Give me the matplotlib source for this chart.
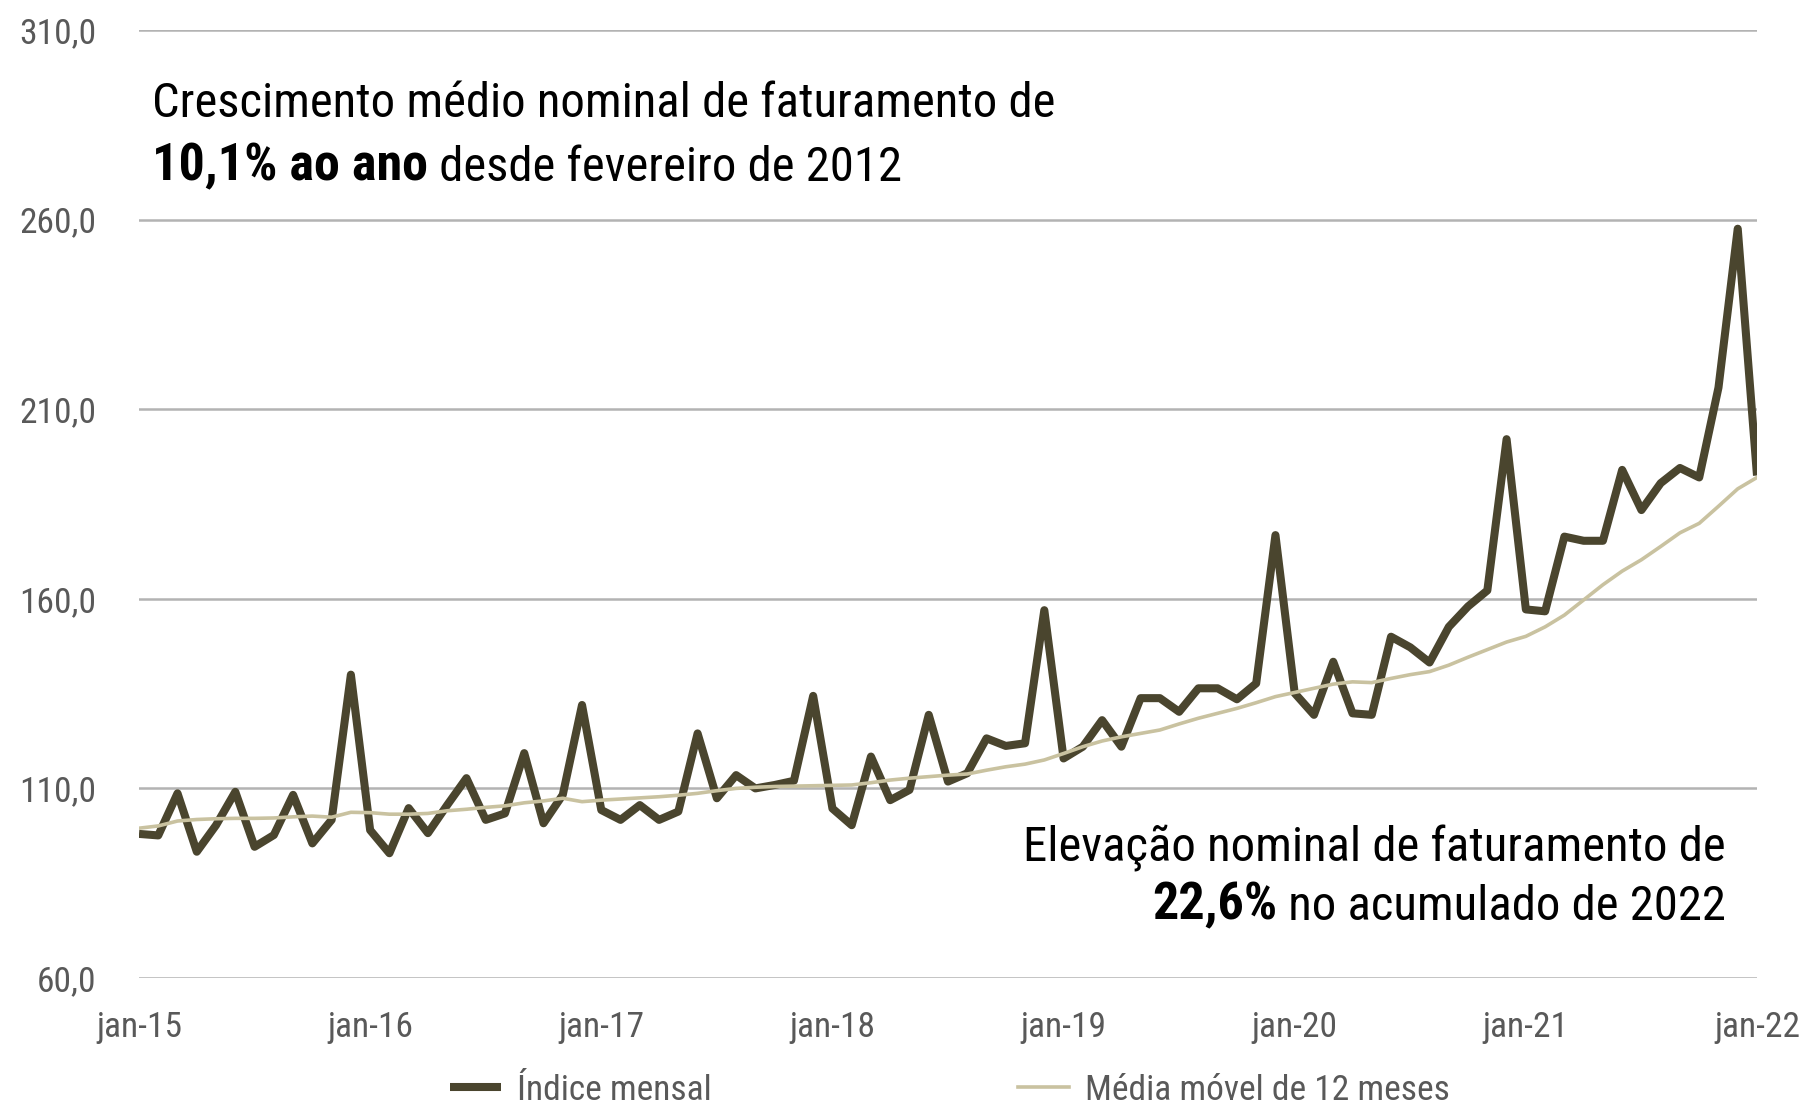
import matplotlib
matplotlib.use("Agg")
import matplotlib.pyplot as plt
from matplotlib import font_manager

# monthly index (jan-15 .. jan-22)
indice_mensal = [
    98.0, 97.6, 108.7, 93.3, 100.3, 109.1, 94.6, 97.7, 108.3, 95.5, 101.7, 140.0,
    99.0, 92.9, 104.8, 98.2, 105.6, 112.7, 101.7, 103.4, 119.3, 100.8, 108.3, 132.0,
    104.3, 101.7, 105.6, 101.7, 103.9, 124.5, 107.4, 113.5, 110.0, 110.9, 112.0, 134.4,
    104.7, 100.3, 118.4, 106.9, 109.6, 129.4, 111.8, 114.0, 123.2, 121.2, 121.9, 157.0,
    117.9, 121.0, 128.0, 121.0, 133.8, 133.8, 130.2, 136.4, 136.4, 133.5, 137.7, 176.8,
    135.1, 129.4, 143.4, 129.8, 129.4, 150.0, 147.2, 143.2, 152.6, 158.0, 162.2, 202.1,
    157.2, 156.7, 176.4, 175.3, 175.3, 194.0, 183.4, 190.5, 194.5, 192.0, 215.7, 257.6,
    192.5,
]
media_movel = [
    99.5, 100.1, 101.4, 101.8, 102.0, 102.1, 102.1, 102.2, 102.5, 102.7, 102.4, 103.7,
    103.6, 103.2, 103.2, 103.4, 104.1, 104.5, 105.0, 105.4, 106.2, 106.7, 107.4, 106.5,
    106.9, 107.2, 107.5, 107.8, 108.2, 108.7, 109.4, 110.0, 110.3, 110.5, 110.6, 110.7,
    110.8, 110.9, 111.5, 112.2, 112.7, 113.1, 113.5, 113.8, 114.8, 115.7, 116.4, 117.5,
    119.2, 121.0, 122.5, 123.6, 124.5, 125.4, 127.0, 128.5, 129.8, 131.1, 132.6, 134.2,
    135.3, 136.4, 137.5, 138.1, 137.9, 139.0, 140.0, 140.8, 142.5, 144.6, 146.6, 148.6,
    150.1, 152.6, 155.7, 159.7, 163.7, 167.3, 170.3, 173.8, 177.4, 179.9, 184.4, 189.0,
    192.0,
]
x_ticks = [0, 12, 24, 36, 48, 60, 72, 84]
x_labels = ["jan-15", "jan-16", "jan-17", "jan-18", "jan-19", "jan-20", "jan-21", "jan-22"]
y_ticks = [60, 110, 160, 210, 260, 310]
y_labels = ["60,0", "110,0", "160,0", "210,0", "260,0", "310,0"]

# narrow sans like the original; first one installed wins
names = {f.name for f in font_manager.fontManager.ttflist}
prefs = ["Liberation Sans Narrow", "Arial Narrow", "Roboto Condensed",
         "Archivo Narrow", "PT Sans Narrow", "IBM Plex Sans Condensed", "Liberation Sans"]
fam = next(p for p in prefs if p in names)
plt.rcParams["font.family"] = [fam, "DejaVu Sans"]

DARK = "#4a452e"
LIGHT = "#c9c2a0"
GRAY = "#595959"

W, H = 1806, 1104
fig = plt.figure(figsize=(W / 100, H / 100), dpi=100)
ax = fig.add_axes([139 / W, 1 - 978 / H, 1618 / W, 948 / H])
renderer = fig.canvas.get_renderer()


def size_for(txt, target_px, weight="normal", probe=30):
    t = fig.text(0, 0, txt, fontsize=probe, weight=weight)
    w = t.get_window_extent(renderer).width
    t.remove()
    return probe * target_px / w


months = list(range(len(indice_mensal)))
ax.plot(months, indice_mensal, color=DARK, lw=5.8, solid_joinstyle="round",
        solid_capstyle="butt", label="Índice mensal", zorder=3)
ax.plot(months, media_movel, color=LIGHT, lw=2.6, label="Média móvel de 12 meses", zorder=4)

tick_fs = size_for("310,0", 77)
ax.set_xlim(0, 84)
ax.set_ylim(60, 310)
ax.set_xticks(x_ticks)
ax.set_xticklabels(x_labels)
ax.set_yticks(y_ticks)
ax.set_yticklabels(y_labels)
ax.tick_params(length=0, labelsize=tick_fs, labelcolor=GRAY)
ax.tick_params(axis="y", pad=31)
ax.tick_params(axis="x", pad=59 * 0.72)
for lbl in ax.get_xticklabels():
    lbl.set_va("baseline")
ax.grid(axis="y", color="#b3b3b3", lw=1.8)
ax.set_axisbelow(True)
for s in ax.spines.values():
    s.set_visible(False)

# annotations
fs = size_for("Crescimento médio nominal de faturamento de", 904)
fsb = size_for("10,1% ao ano", 276, weight="bold")
fig.text(152 / W, 1 - 117 / H, "Crescimento médio nominal de faturamento de",
         fontsize=fs, va="baseline", ha="left")
b1 = fig.text(152 / W, 1 - 180 / H, "10,1% ao ano", fontsize=fsb, weight="bold",
              va="baseline", ha="left")
ax.annotate(" desde fevereiro de 2012", xy=(1, 0), xycoords=b1, fontsize=fs,
            va="bottom", ha="left")

fig.text(1726 / W, 1 - 861 / H, "Elevação nominal de faturamento de",
         fontsize=fs, va="baseline", ha="right")
r2 = fig.text(1726 / W, 1 - 920 / H, " no acumulado de 2022", fontsize=fs,
              va="baseline", ha="right")
ax.annotate("22,6%", xy=(0, 0), xycoords=r2, fontsize=fsb, weight="bold",
            va="bottom", ha="right")

# legend: two entries placed where the original has them
handles, labels = ax.get_legend_handles_labels()
for h, l, x0 in zip(handles, labels, [450, 1018]):
    leg = fig.legend([h], [l], loc="center left", bbox_to_anchor=(x0 / W, 1 - 1090 / H),
                     frameon=False, fontsize=tick_fs, handlelength=1.45,
                     handletextpad=0.45, borderpad=0, borderaxespad=0)
    for t in leg.get_texts():
        t.set_color(GRAY)

fig.savefig("out.png", dpi=100)
